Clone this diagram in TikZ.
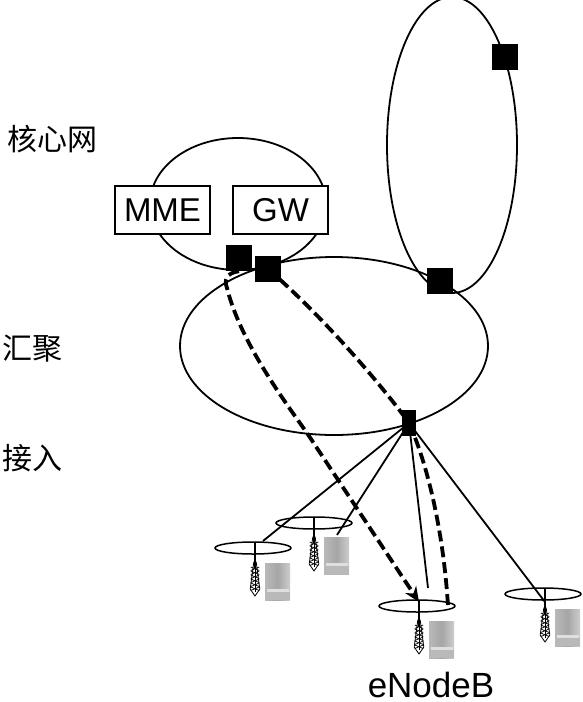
\documentclass[tikz,border=0pt]{standalone}
\usepackage{fontspec}
\setmainfont{Liberation Sans}
\newfontfamily\cjk{Noto Sans CJK SC}
\usetikzlibrary{arrows.meta,shapes.geometric}
\tikzset{
  x=1pt,y=-1pt,
  ring/.style={draw=black,line width=1.8pt,ellipse,inner sep=0pt,fill=none},
  sq/.style={fill=black,draw=none,minimum size=26pt,inner sep=0pt},
  sqtall/.style={fill=black,draw=none,minimum width=14pt,minimum height=26pt,inner sep=0pt},
  boxn/.style={draw=black,line width=1.3pt,fill=white,minimum width=95pt,minimum height=48pt,inner sep=0pt,font=\fontsize{33}{33}\selectfont},
  lab/.style={font=\cjk\fontsize{30}{32}\selectfont,inner sep=0pt},
  link/.style={line width=1.8pt,draw=black},
  dlink/.style={line width=3.8pt,draw=black,dash pattern=on 11pt off 5pt},
  antenna/.style={draw=black,line width=1.5pt,ellipse,minimum width=76pt,minimum height=12pt,inner sep=0pt},
  srv/.style={draw=none,minimum width=25pt,minimum height=37pt,inner sep=0pt,left color=gray!55,right color=gray!40,middle color=gray!70},
  pics/tower/.style={code={
    \draw[line width=.8pt,fill=white] (-1.2,14) -- (-4.8,41) -- (0,48) -- (4.8,41) -- (1.2,14) -- cycle;
    \foreach \y in {19,23,27,31,35,39}{
      \draw[line width=.7pt] (-4.2,\y) -- (4.2,\y+3.5) (4.2,\y) -- (-4.2,\y+3.5);
    }
    \draw[line width=1.8pt] (0,-5) -- (0,20);
    \draw[line width=1pt] (0,20) -- (0,44);
  }}
}
\begin{document}
\begin{tikzpicture}
\useasboundingbox (0,0) rectangle (583,702);
\begin{scope}
\clip (0,0) rectangle (583,702);
\node[ring,minimum width=130pt,minimum height=296pt] (top) at (452,145) {};
\end{scope}
\node[ring,minimum width=176pt,minimum height=132pt] (core) at (238,204) {};
\node[ring,minimum width=308pt,minimum height=178pt] (agg) at (334,346) {};
% boxes
\node[boxn] (mme) at (162.5,210) {MME};
\node[boxn] (gw) at (280.5,210) {GW};
% switches
\node[sq] (s1) at (505,57) {};
\node[sq] (s2) at (239,258) {};
\node[sq] (s3) at (268,269) {};
\node[sq] (s4) at (440,281) {};
\node[sqtall] (s5) at (409,423) {};
% antennas
\node[antenna] (a1) at (253,548) {};
\node[antenna] (a2) at (314,523) {};
\node[antenna] (a3) at (417,606) {};
\node[antenna] (a4) at (543,594) {};
% free ends
\coordinate (e1) at (263,541);
\coordinate (e2) at (337,535);
\coordinate (e3) at (428,588);
\coordinate (e4) at (545,602);
\coordinate (e5) at (448,606);
\coordinate (e6) at (419,602);
% towers
\pic at (255,548) {tower};
\pic at (314,523) {tower};
\pic at (419,606) {tower};
\pic at (545,594) {tower};
% servers
\foreach \n/\cx/\cy in {v1/277.5/581.5,v2/336.5/556,v3/441.5/639.5,v4/567.5/627.5}{
  \node[srv] (\n) at (\cx,\cy) {};
  \fill[gray!25] (\cx-11,\cy+7) rectangle (\cx+11,\cy+10);
  \fill[gray!55] (\cx-12.5,\cy+10) rectangle (\cx+12.5,\cy+18.5);
}
% links
\draw[link] (s5.center) -- (e1);
\draw[link] (s5.center) -- (e2);
\draw[link] (s5.center) -- (e3);
\draw[link] (s5.center) -- (e4);
% dashed
\draw[dlink] (s3.center) .. controls (318,312) and (378,380) .. (s5.center);
\draw[dlink] (s5.center) .. controls (430,470) and (444,540) .. (e5);
\draw[dlink,-{Stealth[length=15pt,width=13pt]}] (s2.south) .. controls (226,273) and (224,280) .. (227,288) .. controls (240,340) and (280,395) .. (307,433) -- (e6);
% labels
\node[lab,anchor=west] (l1) at (7,139) {核心网};
\node[lab,anchor=west] (l2) at (2,349) {汇聚};
\node[lab,anchor=west] (l3) at (2,458) {接入};
\node[font=\fontsize{35}{35}\selectfont,inner sep=0pt] (enb) at (431,685) {eNodeB};
\end{tikzpicture}
\end{document}
